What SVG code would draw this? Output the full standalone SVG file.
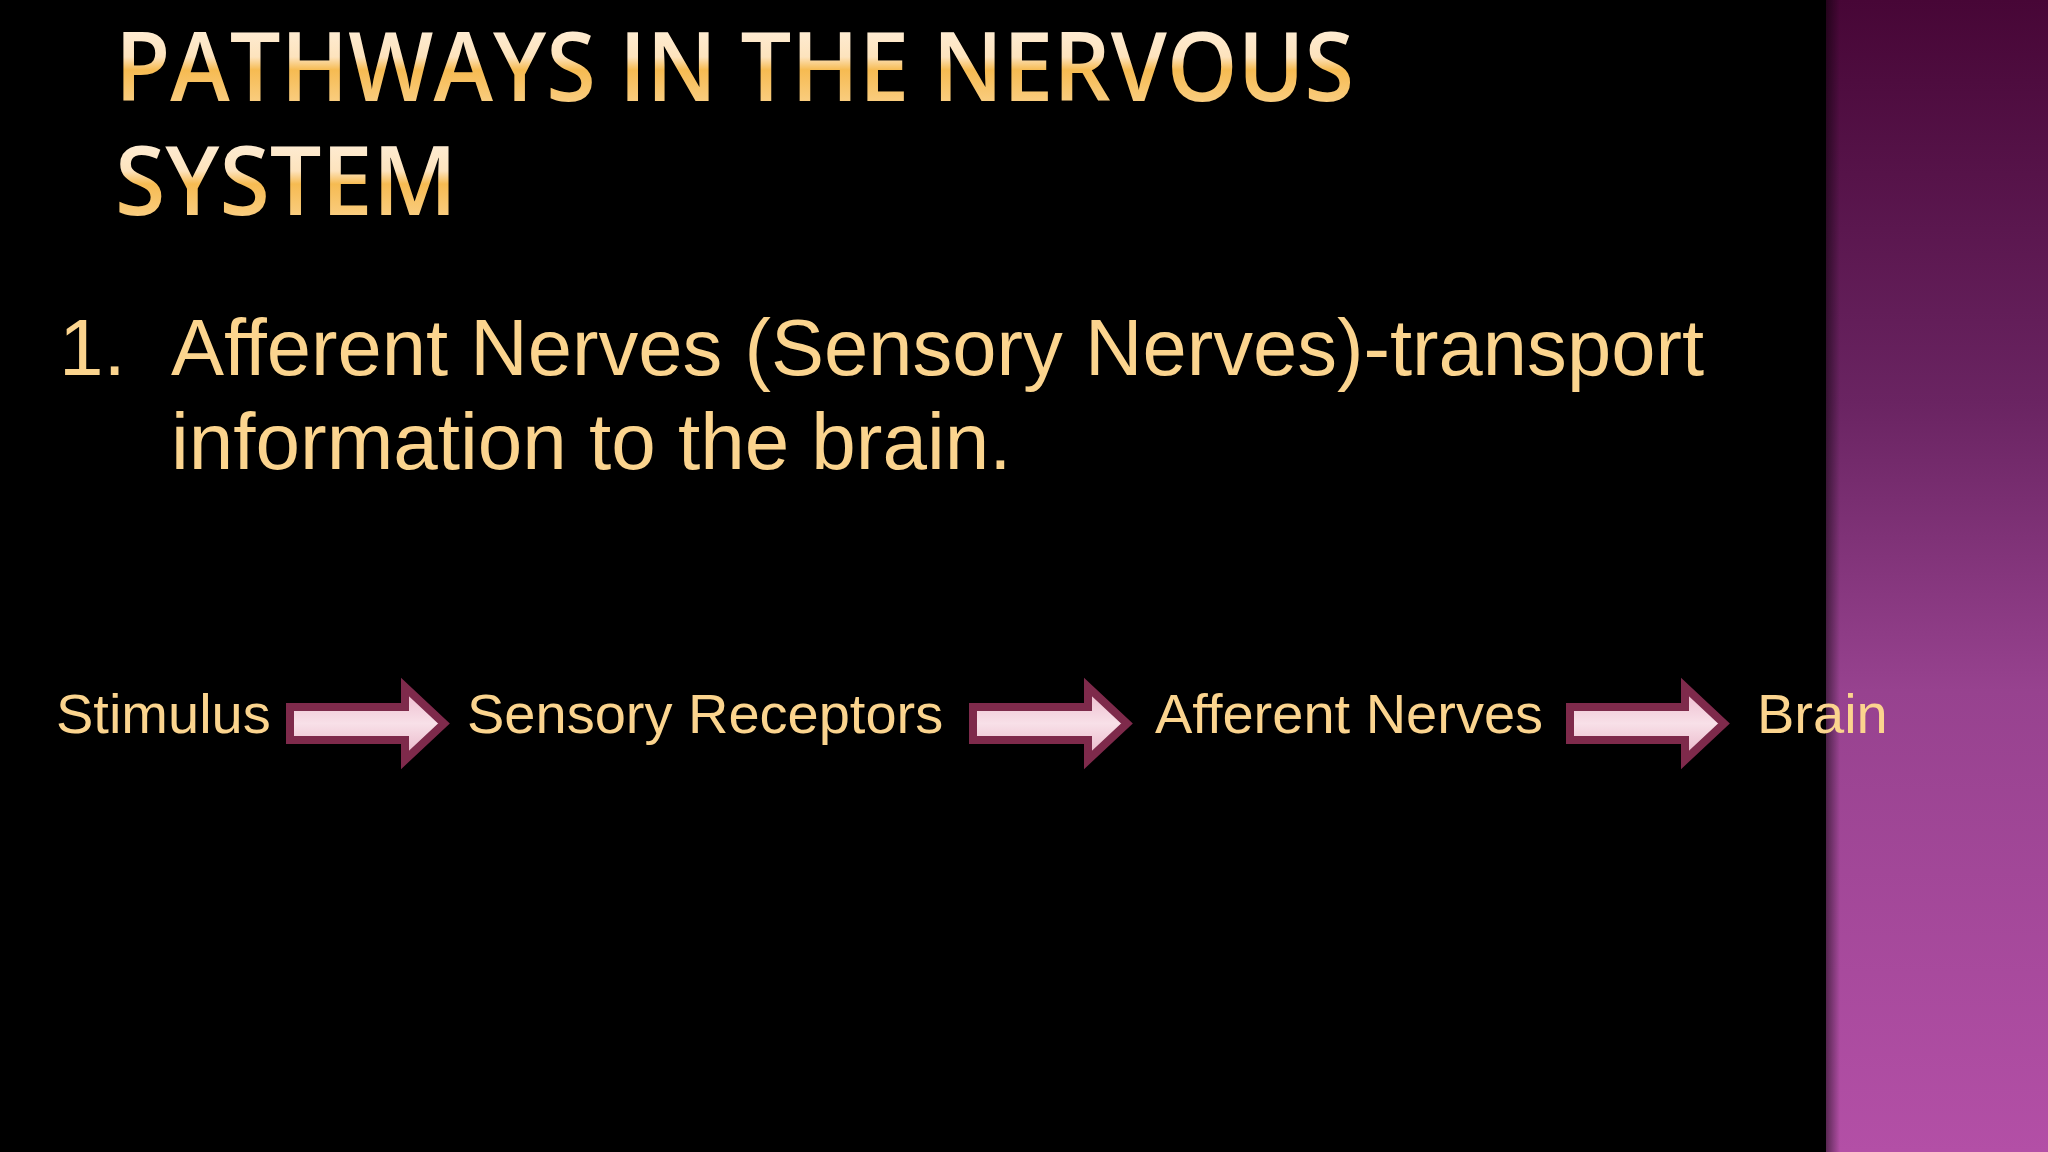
<svg xmlns="http://www.w3.org/2000/svg" width="2048" height="1152" viewBox="0 0 2048 1152">
<defs>
<linearGradient id="panel" x1="0" y1="0" x2="0" y2="1">
<stop offset="0" stop-color="#470636"/>
<stop offset="0.35" stop-color="#6a2462"/>
<stop offset="0.6" stop-color="#97428f"/>
<stop offset="1" stop-color="#b34fa6"/>
</linearGradient>
<linearGradient id="edge" x1="0" y1="0" x2="1" y2="0">
<stop offset="0" stop-color="#000" stop-opacity="0.5"/>
<stop offset="1" stop-color="#000" stop-opacity="0"/>
</linearGradient>
<linearGradient id="title" x1="0" y1="0" x2="0" y2="1">
<stop offset="0" stop-color="#fff6ec"/>
<stop offset="0.45" stop-color="#fde3bd"/>
<stop offset="0.55" stop-color="#f6bb52"/>
<stop offset="1" stop-color="#fcdca6"/>
</linearGradient>
<linearGradient id="arrowFill" x1="0" y1="0" x2="0" y2="1">
<stop offset="0" stop-color="#ecb8cb"/>
<stop offset="0.5" stop-color="#f8e0e8"/>
<stop offset="1" stop-color="#e8b2c5"/>
</linearGradient>
<path id="arr" d="M0,25 H115 V5 L154,41.5 L115,78 V58 H0 Z"/>
</defs>
<style>
.t1{font-family:"Open Sans","Liberation Sans",sans-serif;font-weight:600;font-size:96px;fill:url(#title)}
.body{font-family:"Liberation Sans",Arial,sans-serif;font-size:80px;fill:#fbd48e}
.lbl{font-family:"Liberation Sans",Arial,sans-serif;font-size:56px;fill:#fbd48e}
.arrow use{fill:url(#arrowFill);stroke:#7e2a4b;stroke-width:8;stroke-linejoin:miter}
</style>
<rect width="2048" height="1152" fill="#000"/>
<g id="side-panel">
<rect x="1826" y="0" width="222" height="1152" fill="url(#panel)"/>
<rect x="1826" y="0" width="14" height="1152" fill="url(#edge)"/>
</g>
<g id="title">
<text class="t1" x="115" y="101" textLength="1239" lengthAdjust="spacingAndGlyphs">PATHWAYS IN THE NERVOUS</text>
<text class="t1" x="115" y="215" textLength="342" lengthAdjust="spacingAndGlyphs">SYSTEM</text>
</g>
<g id="bullet">
<text class="body" x="59" y="375">1.</text>
<text class="body" x="171" y="375" textLength="1533" lengthAdjust="spacingAndGlyphs">Afferent Nerves (Sensory Nerves)-transport</text>
<text class="body" x="171" y="469">information to the brain.</text>
</g>
<g id="node-stimulus"><text class="lbl" x="56" y="733">Stimulus</text></g>
<g id="node-receptors"><text class="lbl" x="467" y="733">Sensory Receptors</text></g>
<g id="node-afferent"><text class="lbl" x="1155" y="733">Afferent Nerves</text></g>
<g id="node-brain"><text class="lbl" x="1757" y="733">Brain</text></g>
<g id="connectors" class="arrow">
<use href="#arr" transform="translate(290,682)"/>
<use href="#arr" transform="translate(973,682)"/>
<use href="#arr" transform="translate(1570,682)"/>
</g>
</svg>
